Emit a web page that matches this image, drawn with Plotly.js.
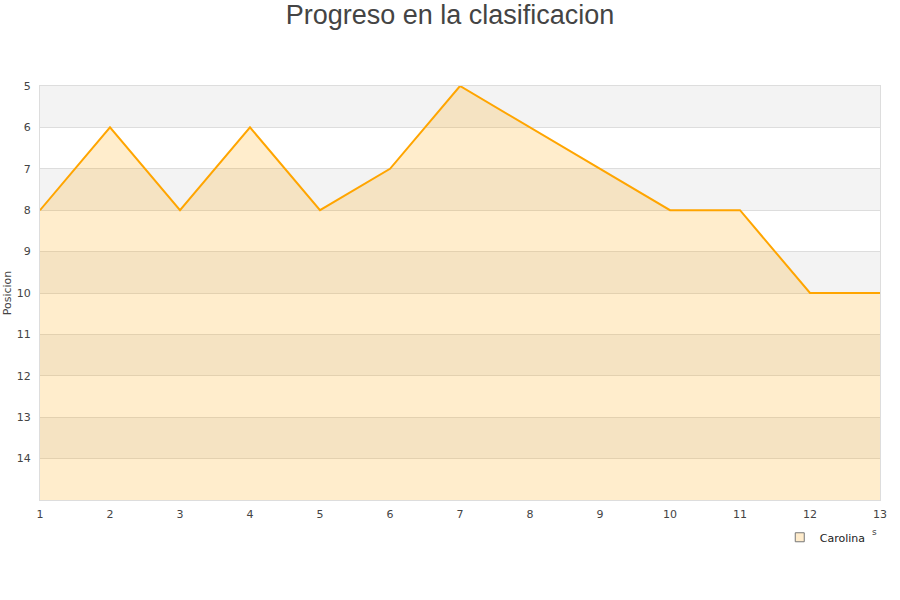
<!DOCTYPE html>
<html>
<head>
<meta charset="utf-8">
<script src="https://cdn.plot.ly/plotly-3.0.1.min.js"></script>
<style>html,body{margin:0;padding:0;background:#fff;}#chart{width:900px;height:600px;}</style>
</head>
<body>
<div id="chart"></div>
<script>
var jornadas = [1, 2, 3, 4, 5, 6, 7, 8, 9, 10, 11, 12, 13];
var posicion = [8, 6, 8, 6, 8, 7, 5, 6, 7, 8, 8, 10, 10];
var yTicks = [5, 6, 7, 8, 9, 10, 11, 12, 13, 14];
var bandStarts = [5, 7, 9, 11, 13];
var yMin = 5, yMax = 15;
var serieNombre = 'Carolina';

var baseline = jornadas.map(function(){ return yMax; });

var shapes = bandStarts.map(function(b){
  return {type:'rect', xref:'paper', yref:'y', x0:0, x1:1, y0:b, y1:b+1,
          fillcolor:'#f3f3f3', line:{width:0}, layer:'below'};
});

var traces = [
  {x: jornadas, y: baseline, mode:'lines', line:{width:0, color:'rgba(0,0,0,0)'},
   showlegend:false, hoverinfo:'skip'},
  {x: jornadas, y: posicion, mode:'lines', fill:'tonexty',
   fillcolor:'rgba(255,165,0,0.2)', line:{color:'#ffa500', width:2},
   name: serieNombre, showlegend:false},
  {x:[null], y:[null], mode:'markers', name: serieNombre,
   marker:{symbol:'square', size:9, color:'#ffeccc', line:{color:'#777', width:1}}}
];

var layout = {
  width:900, height:600,
  margin:{l:40, r:20, t:86, b:100},
  paper_bgcolor:'#fff', plot_bgcolor:'#fff',
  font:{family:'DejaVu Sans, sans-serif', size:11, color:'#444'},
  title:{text:'Progreso en la clasificacion', font:{family:'Liberation Sans, Arial, sans-serif', size:27, color:'#444'},
         x:0.5, xanchor:'center', y:0.975, yref:'container', yanchor:'middle'},
  xaxis:{range:[1,13], tickvals: jornadas, ticks:'', showgrid:false, zeroline:false,
         showline:true, linecolor:'#ddd', mirror:true, tickfont:{size:11, color:'#444'},
         ticklabelstandoff:4},
  yaxis:{range:[yMax, yMin], tickvals: yTicks, ticks:'', showgrid:true, gridcolor:'#ddd',
         zeroline:false, showline:true, linecolor:'#ddd', mirror:true,
         tickfont:{size:11, color:'#444'}, ticklabelstandoff:6,
         title:{text:'Posicion', font:{size:11, color:'#444'}, standoff:2}},
  shapes: shapes,
  showlegend:true,
  legend:{x:0.989, xanchor:'right', y:-0.09, yanchor:'middle', bgcolor:'rgba(0,0,0,0)',
          itemwidth:30, font:{size:11, color:'#222'}},
  annotations:[{text:'s', xref:'paper', yref:'paper', x:0.994, xanchor:'center',
                y:-0.077, yanchor:'middle', showarrow:false,
                font:{size:9, color:'#444'}}]
};

Plotly.newPlot('chart', traces, layout, {displayModeBar:false, staticPlot:true});
</script>
</body>
</html>
